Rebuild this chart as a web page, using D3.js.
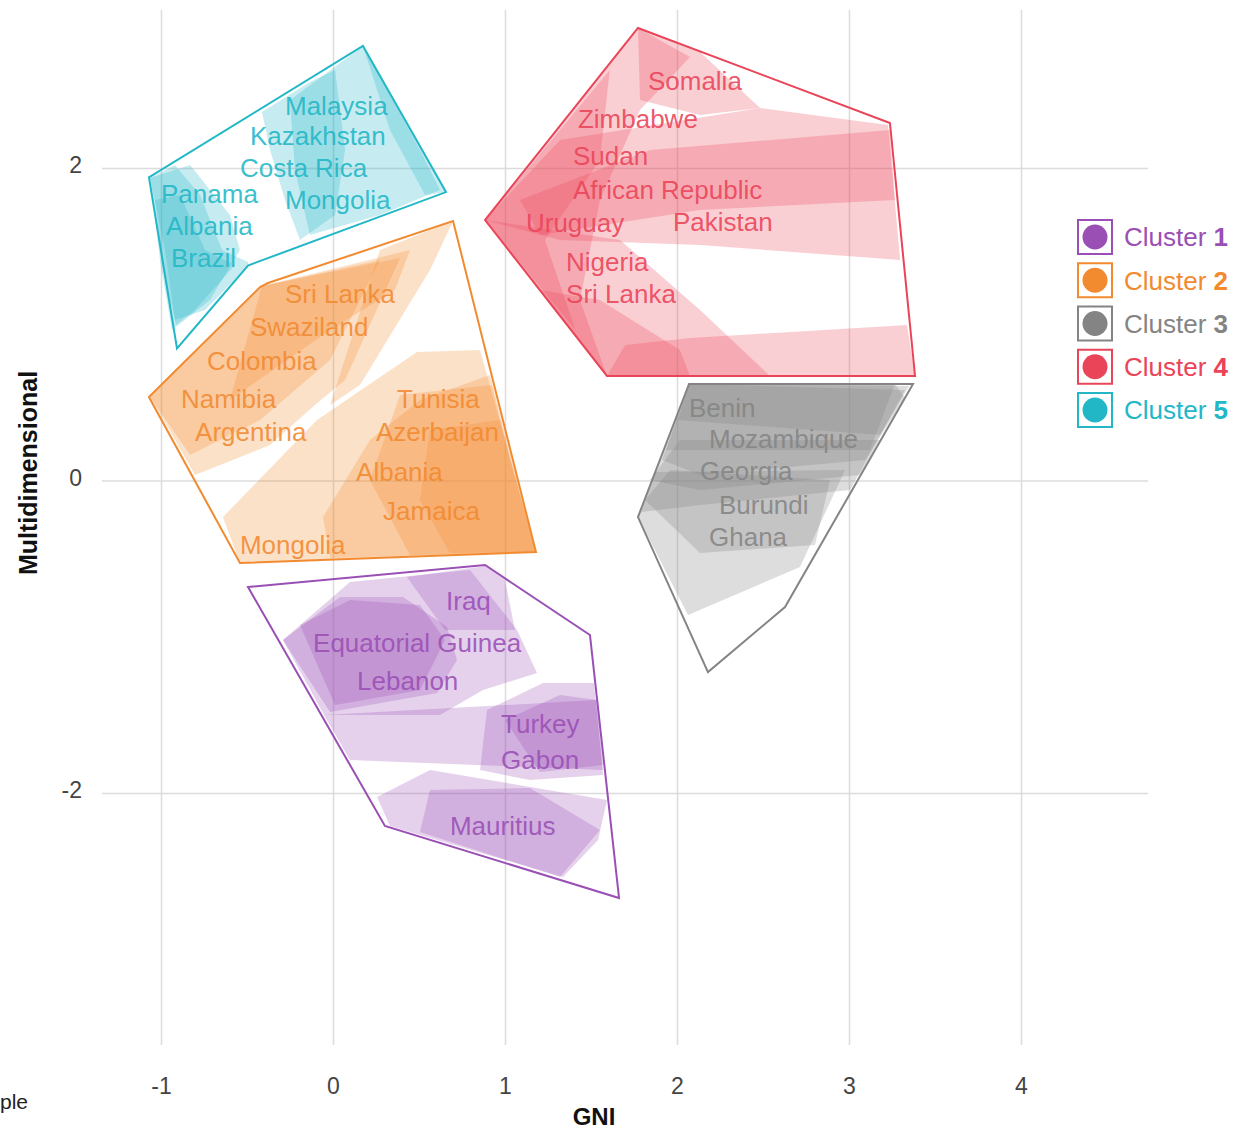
<!DOCTYPE html>
<html><head><meta charset="utf-8">
<script src="https://cdn.jsdelivr.net/npm/d3@7"></script>
<style>body{margin:0;background:#fff}svg{display:block}text{font-family:"Liberation Sans",Arial,sans-serif}</style>
</head><body><svg id="c" width="1234" height="1130"></svg>
<script>
// ---------- data ----------
const xTicks = [-1, 0, 1, 2, 3, 4];
const yTicks = [-2, 0, 2];
const clusterNames = ["Cluster 1", "Cluster 2", "Cluster 3", "Cluster 4", "Cluster 5"];
const clusterNums = ["1", "2", "3", "4", "5"];
const clusterColors = ["#9a4fb5", "#f28a30", "#848484", "#ea4458", "#22b7c7"];

// outer hulls [GNI, Multidimensional]
const hull1 = [[-0.494,-0.682],[0.884,-0.541],[1.494,-0.989],[1.663,-2.672],[0.302,-2.211]];
const hull2 = [[-1.07,0.534],[-0.424,1.238],[-0.378,1.264],[0.698,1.661],[1.180,-0.458],[-0.541,-0.528]];
const hull3 = [[2.070,0.618],[3.372,0.618],[2.628,-0.810],[2.180,-1.226],[1.773,-0.234]];
const hull4 = [[1.773,2.896],[3.238,2.288],[3.384,0.669],[1.593,0.669],[0.884,1.667]];
const hull5 = [[-1.07,1.94],[0.174,2.781],[0.657,1.846],[-0.494,1.376],[-0.907,0.845]];

// overlapping sub-hulls (shading)
const shade1 = [
  [[-0.291,-1.021],[0.099,-0.650],[0.797,-0.573],[1.070,-0.957],[1.186,-1.232],[0.872,-1.341],[0.622,-1.501],[-0.052,-1.501]],
  [[-0.291,-1.021],[0.041,-0.746],[0.407,-0.746],[0.663,-0.938],[0.721,-1.149],[0.605,-1.360],[-0.017,-1.482]],
  [[-0.192,-0.925],[0.099,-0.765],[0.506,-0.797],[0.651,-1.021],[0.506,-1.341],[0.012,-1.437]],
  [[0.430,-0.618],[0.884,-0.547],[1.0,-0.637],[1.058,-0.957],[0.651,-0.957]],
  [[-0.052,-1.501],[1.529,-1.405],[1.570,-1.853],[0.099,-1.789]],
  [[0.895,-1.469],[1.221,-1.296],[1.517,-1.296],[1.570,-1.885],[1.145,-1.917],[0.855,-1.853]],
  [[1.0,-1.533],[1.320,-1.373],[1.535,-1.405],[1.570,-1.821],[1.203,-1.866]],
  [[0.256,-2.026],[0.564,-1.853],[1.593,-2.045],[1.541,-2.301],[1.337,-2.538],[0.331,-2.211]],
  [[0.564,-1.981],[1.145,-1.968],[1.552,-2.237],[1.320,-2.538],[0.506,-2.250]]
];
const shade2 = [
  [[-1.064,0.534],[-0.413,1.245],[0.390,1.424],[0.070,0.643],[-0.105,0.483],[-0.366,0.227],[-0.802,0.035],[-0.919,0.259]],
  [[-1.064,0.534],[-0.413,1.245],[0.273,1.411],[-0.017,0.771],[-0.424,0.387],[-0.831,0.163]],
  [[-0.413,1.245],[0.448,1.475],[0.360,1.219],[-0.017,0.963],[-0.599,0.515]],
  [[0.273,1.475],[0.698,1.661],[0.564,1.347],[0.157,0.611],[-0.017,0.483]],
  [[-0.640,-0.234],[-0.093,0.387],[0.488,0.822],[0.855,0.835],[1.180,-0.458],[-0.541,-0.528]],
  [[-0.058,-0.234],[0.215,0.259],[0.506,0.515],[0.913,0.675],[1.180,-0.458],[-0.017,-0.496]],
  [[0.390,0.547],[0.924,0.611],[1.029,0.131],[1.180,-0.458],[0.448,-0.477],[0.215,0.003]],
  [[0.564,0.323],[0.971,0.387],[1.180,-0.458],[0.680,-0.464],[0.506,-0.125]]
];
const shade3 = [
  [[2.070,0.618],[3.267,0.618],[3.326,0.528],[3.093,0.131],[2.134,0.035],[1.913,0.131]],
  [[2.070,0.618],[3.326,0.579],[3.006,-0.061],[2.134,-0.157],[1.791,-0.202]],
  [[1.814,-0.125],[1.960,0.067],[2.890,0.003],[2.802,-0.413],[2.134,-0.464]],
  [[1.773,-0.234],[1.872,0.054],[2.977,0.067],[2.715,-0.554],[2.064,-0.861]],
  [[1.843,0.003],[2.017,0.259],[3.180,0.259],[3.064,0.035],[2.134,-0.061]],
  [[2.070,0.618],[3.349,0.605],[3.180,0.291],[2.006,0.387]],
  [[2.070,0.618],[3.267,0.618],[3.122,0.195],[1.936,0.195]]
];
const shade4 = [
  [[0.884,1.667],[1.773,2.896],[2.076,2.710],[1.785,2.371],[1.552,1.795],[1.436,1.155],[1.593,0.669]],
  [[0.884,1.667],[1.609,2.627],[1.552,2.051],[1.232,1.539],[1.410,0.963]],
  [[0.884,1.667],[1.320,2.179],[2.483,2.384],[3.227,2.275],[3.297,1.411],[2.134,1.507],[1.320,1.539]],
  [[1.087,1.795],[1.843,2.115],[3.238,2.243],[3.267,1.795],[2.134,1.731],[1.203,1.571]],
  [[1.593,0.669],[1.698,0.867],[2.076,0.912],[3.337,0.995],[3.384,0.669]],
  [[0.884,1.667],[1.669,1.539],[2.134,1.091],[2.541,0.669],[1.593,0.669]],
  [[1.773,2.896],[2.134,2.742],[2.483,2.384],[2.134,2.339],[1.785,2.435]],
  [[1.203,1.219],[1.552,1.155],[2.017,0.835],[2.076,0.669],[1.593,0.669]]
];
const shade5 = [
  [[-1.064,1.936],[-0.919,2.019],[-0.773,1.827],[-0.645,1.475],[-0.494,1.398],[-0.494,1.373],[-0.744,1.091],[-0.919,1.027],[-0.977,1.475]],
  [[-1.064,1.936],[-0.831,2.019],[-0.599,1.699],[-0.541,1.475],[-0.715,1.155],[-0.936,0.963],[-1.006,1.411]],
  [[-1.035,1.795],[-0.890,1.827],[-0.744,1.475],[-0.570,1.379],[-0.802,1.091],[-0.913,0.995],[-0.988,1.347]],
  [[-0.413,2.358],[-0.134,2.550],[0.012,2.627],[0.070,2.115],[0.012,1.699],[-0.192,1.539],[-0.279,1.795],[-0.366,2.115]],
  [[-0.25,2.435],[0.174,2.781],[0.506,2.115],[0.622,1.859],[0.273,1.699],[-0.134,1.571],[-0.221,1.987]],
  [[0.174,2.781],[0.657,1.846],[0.535,1.827],[0.331,2.243]]
];

// country labels [name, GNI, Multidimensional]
const labels1 = [["Iraq",0.657,-0.771],["Equatorial Guinea",-0.116,-1.041],["Lebanon",0.140,-1.283],["Turkey",0.977,-1.555],["Gabon",0.977,-1.789],["Mauritius",0.680,-2.211]];
const labels2 = [["Sri Lanka",-0.279,1.194],["Swaziland",-0.483,0.982],["Colombia",-0.733,0.765],["Namibia",-0.884,0.522],["Tunisia",0.372,0.522],["Argentina",-0.802,0.310],["Azerbaijan",0.25,0.310],["Albania",0.134,0.054],["Jamaica",0.291,-0.195],["Mongolia",-0.541,-0.413]];
const labels3 = [["Benin",2.070,0.464],["Mozambique",2.186,0.266],["Georgia",2.134,0.061],["Burundi",2.244,-0.157],["Ghana",2.186,-0.362]];
const labels4 = [["Somalia",1.831,2.557],["Zimbabwe",1.424,2.314],["Sudan",1.395,2.077],["African Republic",1.395,1.859],["Uruguay",1.122,1.648],["Pakistan",1.977,1.654],["Nigeria",1.355,1.398],["Sri Lanka",1.355,1.194]];
const labels5 = [["Malaysia",-0.279,2.397],["Kazakhstan",-0.483,2.205],["Costa Rica",-0.541,2.0],["Panama",-1.0,1.834],["Mongolia",-0.279,1.795],["Albania",-0.971,1.629],["Brazil",-0.942,1.424]];

const hulls = [hull1, hull2, hull3, hull4, hull5];
const shades = [shade1, shade2, shade3, shade4, shade5];
const labels = [labels1, labels2, labels3, labels4, labels5];

// ---------- chart ----------
const svg = d3.select("#c");
const x = d3.scaleLinear().domain([-1, 3]).range([161, 849]);
const y = d3.scaleLinear().domain([-2, 2]).range([793, 168]);
const gridTop = 10, gridBottom = 1045, gridLeft = 102, gridRight = 1148;
const fmt = d => String(d);

const xAxis = svg.append("g").attr("transform", `translate(0,${gridBottom})`)
  .call(d3.axisBottom(x).tickValues(xTicks).tickFormat(fmt).tickSize(-(gridBottom - gridTop)).tickPadding(33));
const yAxis = svg.append("g").attr("transform", `translate(${gridLeft},0)`)
  .call(d3.axisLeft(y).tickValues(yTicks).tickFormat(fmt).tickSize(-(gridRight - gridLeft)).tickPadding(20));
[xAxis, yAxis].forEach(g => {
  g.select(".domain").remove();
  g.selectAll(".tick line").attr("stroke", "#dcdcdc").attr("stroke-width", 1.5);
  g.selectAll(".tick text").attr("fill", "#444").style("font-size", "23px").style("font-family", '"Liberation Sans",Arial,sans-serif');
});
yAxis.selectAll(".tick text").attr("dy", "0.2em");

const line = d3.line().x(d => x(d[0])).y(d => y(d[1])).curve(d3.curveLinearClosed);

hulls.forEach((h, i) => {
  const g = svg.append("g");
  g.selectAll("path.shade").data(shades[i]).join("path")
    .attr("class", "shade")
    .attr("d", line)
    .attr("fill", clusterColors[i])
    .attr("fill-opacity", i === 2 ? 0.28 : 0.26)
    .attr("stroke", "none");
  g.append("path").datum(h)
    .attr("d", line)
    .attr("fill", "none")
    .attr("stroke", clusterColors[i])
    .attr("stroke-width", 2)
    .attr("stroke-linejoin", "miter");
  g.selectAll("text").data(labels[i]).join("text")
    .attr("x", d => x(d[1]))
    .attr("y", d => y(d[2]))
    .attr("dy", "0.35em")
    .attr("fill", clusterColors[i])
    .attr("fill-opacity", 0.9)
    .style("font-size", "26px")
    .text(d => d[0]);
});

// legend
const lg = svg.append("g");
const ly = d => 237 + d * 43.25;
clusterNames.forEach((name, i) => {
  const row = lg.append("g").attr("transform", `translate(0,${ly(i)})`);
  row.append("rect").attr("x", 1078).attr("y", -17).attr("width", 34).attr("height", 34)
    .attr("fill", "#fff").attr("stroke", clusterColors[i]).attr("stroke-width", 2);
  row.append("circle").attr("cx", 1095).attr("cy", 0).attr("r", 12.5).attr("fill", clusterColors[i]);
  const t = row.append("text").attr("x", 1124).attr("y", 0).attr("dy", "0.36em")
    .attr("fill", clusterColors[i]).style("font-size", "26px");
  t.append("tspan").text(name.replace(clusterNums[i], ""));
  t.append("tspan").attr("font-weight", "bold").text(clusterNums[i]);
});

// axis titles
svg.append("text").attr("x", 594).attr("y", 1125).attr("text-anchor", "middle")
  .attr("font-weight", "bold").style("font-size", "24px").attr("fill", "#111").text("GNI");
svg.append("text").attr("transform", "translate(37,473) rotate(-90)").attr("text-anchor", "middle")
  .attr("font-weight", "bold").style("font-size", "25px").attr("fill", "#111").text("Multidimensional");
svg.append("text").attr("x", 0).attr("y", 1109).style("font-size", "21px").attr("fill", "#222").text("ple");
</script></body></html>
